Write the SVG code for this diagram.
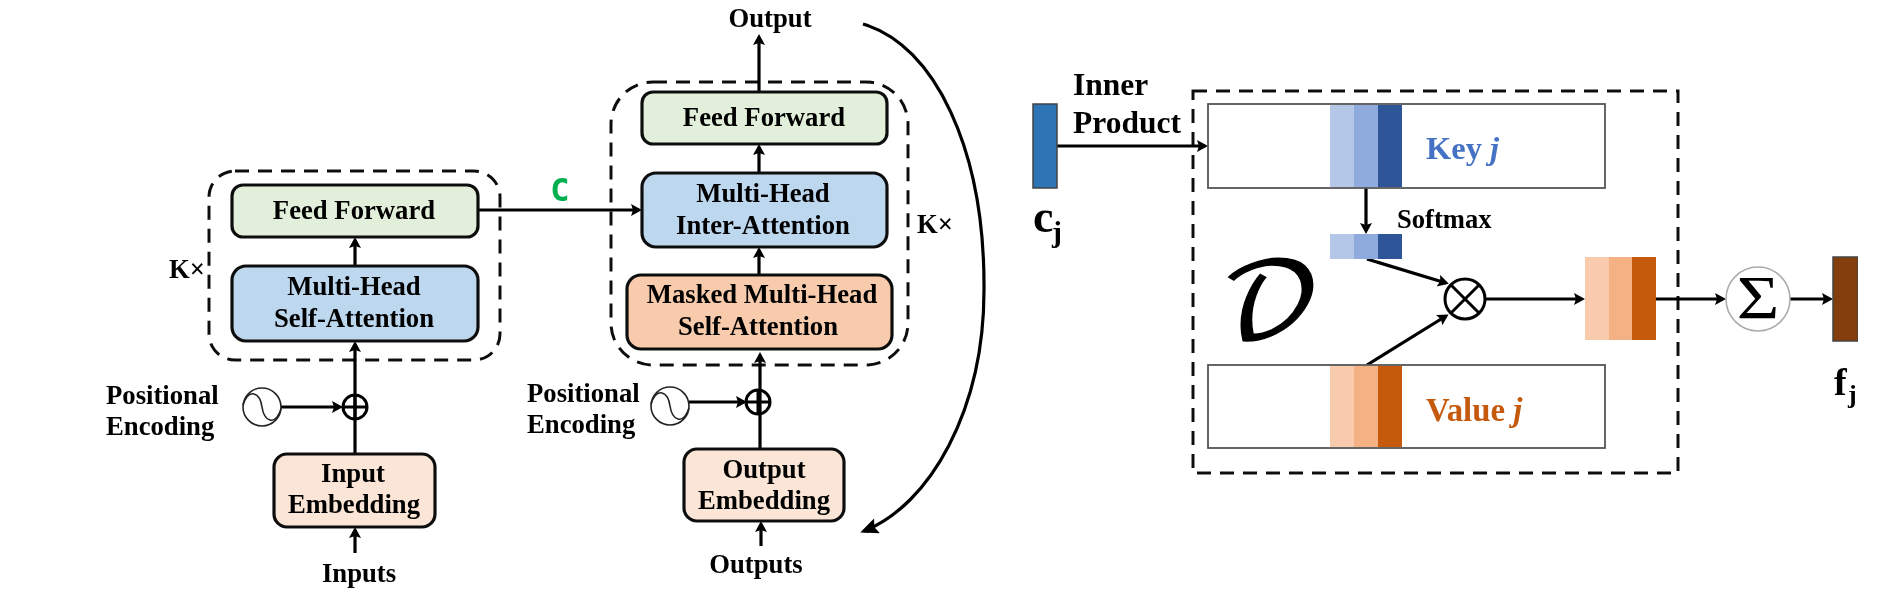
<svg xmlns="http://www.w3.org/2000/svg" width="1902" height="610" viewBox="0 0 1902 610">
<defs>
<marker id="ah" markerUnits="userSpaceOnUse" markerWidth="14" markerHeight="14" refX="8" refY="6" orient="auto"><path d="M0 0L11 6L0 12L2 6Z" fill="#000"/></marker>
<marker id="big" markerUnits="userSpaceOnUse" markerWidth="24" markerHeight="20" refX="14" refY="8" orient="auto"><path d="M0 0L18 8L0 16L3 8Z" fill="#000"/></marker>
<filter id="soft" x="0" y="0" width="100%" height="100%"><feGaussianBlur stdDeviation="0.45"/></filter>
</defs>
<style>
text{font-family:"Liberation Serif","Times New Roman",serif;font-weight:700;fill:#000}
.t{font-size:26.7px}
.m{text-anchor:middle}
.l{font-size:31.5px}
.box{stroke:#111;stroke-width:3.2}
.dash{fill:none;stroke:#111;stroke-width:3;stroke-dasharray:14 9}
.c{fill:none;stroke:#000;stroke-width:3.2;marker-end:url(#ah)}
.thin{fill:none;stroke:#222;stroke-width:1.6}
.cell{stroke:none}
.frame{fill:#fff;stroke:#555;stroke-width:1.8}
.b1{fill:#b4c7e7}.b2{fill:#8faadc}.b3{fill:#2f5597}
.o1{fill:#f8cbad}.o2{fill:#f4b183}.o3{fill:#c55a11}
</style>
<rect width="1902" height="610" fill="#fff"/>
<g filter="url(#soft)">
<g id="encoder-frame"><rect class="dash" x="209" y="171" width="291" height="189" rx="26"/><text class="t" x="169" y="278">K×</text></g>
<g id="decoder-frame"><rect class="dash" x="611" y="82" width="297" height="283" rx="42"/><text class="t" x="917" y="233">K×</text></g>
<g id="memory-frame"><rect class="dash" x="1193" y="91" width="485" height="382"/></g>
<g id="connectors">
<path class="c" d="M355 553V530"/>
<path class="c" d="M355 454V344"/>
<path class="c" d="M355 266V240"/>
<path class="c" d="M281 407H340"/>
<path class="c" d="M478 210H639"/>
<path class="c" d="M760 449V355"/>
<path class="c" d="M761 546V524"/>
<path class="c" d="M689 402H744"/>
<path class="c" d="M759 275V250"/>
<path class="c" d="M759 173V147"/>
<path class="c" d="M759 92V37"/>
<path d="M863 24C935 45 985 150 984 290C984 410 930 505 864 531" fill="none" stroke="#000" stroke-width="3.200" marker-end="url(#big)"/>
<path class="c" d="M1057 146H1205"/>
<path class="c" d="M1366 188V231"/>
<path class="c" d="M1367 259L1446 283"/>
<path class="c" d="M1367 365L1446 316"/>
<path class="c" d="M1485 299H1582"/>
<path class="c" d="M1656 299H1723"/>
<path class="c" d="M1790 299H1830"/>
</g>
<g id="enc-feed-forward"><rect class="box" x="232" y="185" width="246" height="52" rx="11" fill="#e2efda"/><text class="t m" x="354" y="219">Feed Forward</text></g>
<g id="enc-self-attention"><rect class="box" x="232" y="266" width="246" height="75" rx="14" fill="#bdd7ee"/><text class="t m" x="354" y="295">Multi-Head</text><text class="t m" x="354" y="327">Self-Attention</text></g>
<g id="input-embedding"><rect class="box" x="274" y="454" width="161" height="73" rx="13" fill="#fbe5d6"/><text class="t m" x="353" y="482">Input</text><text class="t m" x="354" y="513">Embedding</text></g>
<g id="inputs"><text class="t m" x="359" y="582">Inputs</text></g>
<g id="enc-add"><circle cx="355" cy="407" r="12" fill="none" stroke="#000" stroke-width="3"/><path d="M343 407H367M355 395V419" stroke="#000" stroke-width="3"/></g>
<g id="enc-pos"><circle class="thin" cx="262" cy="407" r="19"/><path class="thin" d="M243 405C249 387 260 393 262 407S275 427 281 409"/><text class="t" x="106" y="404">Positional</text><text class="t" x="106" y="435">Encoding</text></g>
<g id="context"><text x="560" y="201" text-anchor="middle" style="font-family:'DejaVu Sans Mono','Liberation Mono',monospace;font-size:32px;fill:#00b050">C</text></g>
<g id="dec-feed-forward"><rect class="box" x="642" y="92" width="245" height="52" rx="11" fill="#e2efda"/><text class="t m" x="764" y="126">Feed Forward</text></g>
<g id="dec-inter-attention"><rect class="box" x="642" y="173" width="245" height="74" rx="14" fill="#bdd7ee"/><text class="t m" x="763" y="202">Multi-Head</text><text class="t m" x="763" y="234">Inter-Attention</text></g>
<g id="dec-masked-attention"><rect class="box" x="627" y="275" width="265" height="74" rx="14" fill="#f8cbad"/><text class="t m" x="762" y="303">Masked Multi-Head</text><text class="t m" x="758" y="335">Self-Attention</text></g>
<g id="output-embedding"><rect class="box" x="684" y="449" width="160" height="72" rx="13" fill="#fbe5d6"/><text class="t m" x="764" y="478">Output</text><text class="t m" x="764" y="509">Embedding</text></g>
<g id="output"><text class="t m" x="770" y="27">Output</text></g>
<g id="outputs"><text class="t m" x="756" y="573">Outputs</text></g>
<g id="dec-add"><circle cx="758" cy="402" r="12" fill="none" stroke="#000" stroke-width="3"/><path d="M746 402H770M758 390V414" stroke="#000" stroke-width="3"/></g>
<g id="dec-pos"><circle class="thin" cx="670" cy="406" r="19"/><path class="thin" d="M651 404C657 386 668 392 670 406S683 426 689 408"/><text class="t" x="527" y="402">Positional</text><text class="t" x="527" y="433">Encoding</text></g>
<g id="cj"><rect x="1033" y="104" width="24" height="84" fill="#2e75b6" stroke="#444" stroke-width="1.5"/><text x="1033" y="232" font-size="46">c</text><text x="1052" y="242" font-size="30">j</text></g>
<g id="inner-product"><text class="l" x="1073" y="95">Inner</text><text class="l" x="1073" y="133">Product</text></g>
<g id="key"><rect class="frame" x="1208" y="104" width="397" height="84"/><rect class="cell b1" x="1330" y="105" width="24" height="82"/><rect class="cell b2" x="1354" y="105" width="24" height="82"/><rect class="cell b3" x="1378" y="105" width="24" height="82"/><text x="1426" y="159" font-size="32.500" style="fill:#4472c4">Key <tspan font-style="italic">j</tspan></text></g>
<g id="softmax"><rect class="cell b1" x="1330" y="234" width="24" height="25"/><rect class="cell b2" x="1354" y="234" width="24" height="25"/><rect class="cell b3" x="1378" y="234" width="24" height="25"/><text x="1397" y="228" font-size="26.6">Softmax</text></g>
<g id="memory-label"><text transform="translate(1220 338) scale(1 .93)" font-size="110" style="font-family:'DejaVu Math TeX Gyre','DejaVu Serif',serif;font-weight:400;stroke:#000;stroke-width:1.5">𝒟</text></g>
<g id="otimes"><circle cx="1465" cy="299" r="20" fill="#fff" stroke="#000" stroke-width="3"/><path d="M1451 285L1479 313M1479 285L1451 313" stroke="#000" stroke-width="3"/></g>
<g id="value"><rect class="frame" x="1208" y="365" width="397" height="83"/><rect class="cell o1" x="1330" y="366" width="24" height="81"/><rect class="cell o2" x="1354" y="366" width="24" height="81"/><rect class="cell o3" x="1378" y="366" width="24" height="81"/><text x="1426" y="421" font-size="32.800" style="fill:#c55a11">Value <tspan font-style="italic">j</tspan></text></g>
<g id="weighted"><rect class="cell o1" x="1585" y="257" width="24" height="83"/><rect class="cell o2" x="1609" y="257" width="23.500" height="83"/><rect class="cell o3" x="1632" y="257" width="24" height="83"/></g>
<g id="sum"><circle cx="1758" cy="299" r="32" fill="#fff" stroke="#aaa" stroke-width="1.5"/><text transform="translate(1758 318) scale(1.18 1)" font-size="62" text-anchor="middle" style="font-weight:400">Σ</text></g>
<g id="fj"><rect x="1833" y="257" width="25" height="84" fill="#843c0c" stroke="#444" stroke-width="1.5"/><text x="1834" y="395" font-size="38">f</text><text x="1848" y="403" font-size="26">j</text></g>
</g>
</svg>
